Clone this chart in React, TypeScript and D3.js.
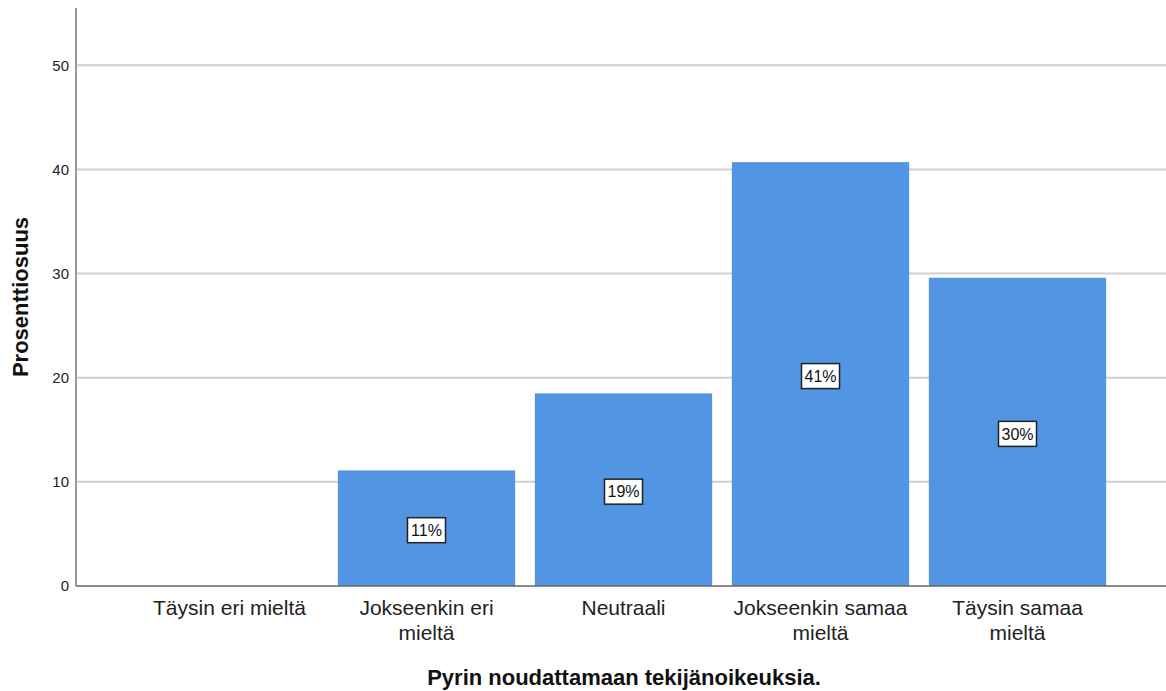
import React from "react";
import * as d3 from "d3";

const categories = [
  ["Täysin eri mieltä"],
  ["Jokseenkin eri", "mieltä"],
  ["Neutraali"],
  ["Jokseenkin samaa", "mieltä"],
  ["Täysin samaa", "mieltä"],
];
const values = [0, 11.1, 18.5, 40.7, 29.6];
const labels = ["", "11%", "19%", "41%", "30%"];
const yTicks = [0, 10, 20, 30, 40, 50];

export default function App() {
  const W = 1166, H = 691;
  const left = 76, right = 1166, top = 8, bottom = 586;
  const keys = categories.map((c) => c.join(" "));
  const x = d3.scaleBand<string>().domain(keys).range([131, 1116]).paddingInner(0.1).paddingOuter(0.05);
  const y = d3.scaleLinear().domain([0, 55.5]).range([bottom, top]);
  const font = "'Liberation Sans', Arial, sans-serif";
  return (
    <svg width={W} height={H} style={{ position: "absolute", left: 0, top: 0 }} fontFamily={font}>
      <rect width={W} height={H} fill="#fff" />
      {yTicks.filter((t) => t > 0).map((t) => (
        <line key={t} x1={left} x2={right} y1={y(t)} y2={y(t)} stroke="#d0d0d0" strokeWidth={2} />
      ))}
      {yTicks.map((t) => (
        <text key={"l" + t} x={left - 7} y={y(t)} dy="0.36em" textAnchor="end" fontSize={15} fill="#222">{t}</text>
      ))}
      {values.map((v, i) =>
        v > 0 ? (
          <rect key={i} x={x(keys[i])!} width={x.bandwidth()} y={y(v)} height={bottom - y(v)} fill="#5195e3" />
        ) : null
      )}
      {values.map((v, i) => {
        if (v <= 0) return null;
        const cx = x(keys[i])! + x.bandwidth() / 2;
        const cy = (y(v) + bottom) / 2 + 2;
        return (
          <g key={"b" + i}>
            <rect x={cx - 19} y={cy - 12.5} width={38} height={25} fill="#fff" stroke="#222" strokeWidth={1.5} />
            <text x={cx} y={cy} dy="0.36em" textAnchor="middle" fontSize={16} fill="#111">{labels[i]}</text>
          </g>
        );
      })}
      <line x1={left} x2={left} y1={top} y2={bottom} stroke="#999" strokeWidth={2} />
      <line x1={left} x2={right} y1={bottom} y2={bottom} stroke="#666" strokeWidth={1.5} />
      {categories.map((lines, i) => {
        const cx = x(keys[i])! + x.bandwidth() / 2;
        return (
          <text key={"c" + i} textAnchor="middle" fontSize={21} fill="#222">
            {lines.map((l, j) => (
              <tspan key={j} x={cx} y={615 + j * 25}>{l}</tspan>
            ))}
          </text>
        );
      })}
      <text x={624} y={685} textAnchor="middle" fontSize={22} fontWeight="bold" fill="#111">Pyrin noudattamaan tekijänoikeuksia.</text>
      <text transform={`translate(28,${297}) rotate(-90)`} textAnchor="middle" fontSize={22} fontWeight="bold" fill="#111">Prosenttiosuus</text>
    </svg>
  );
}
